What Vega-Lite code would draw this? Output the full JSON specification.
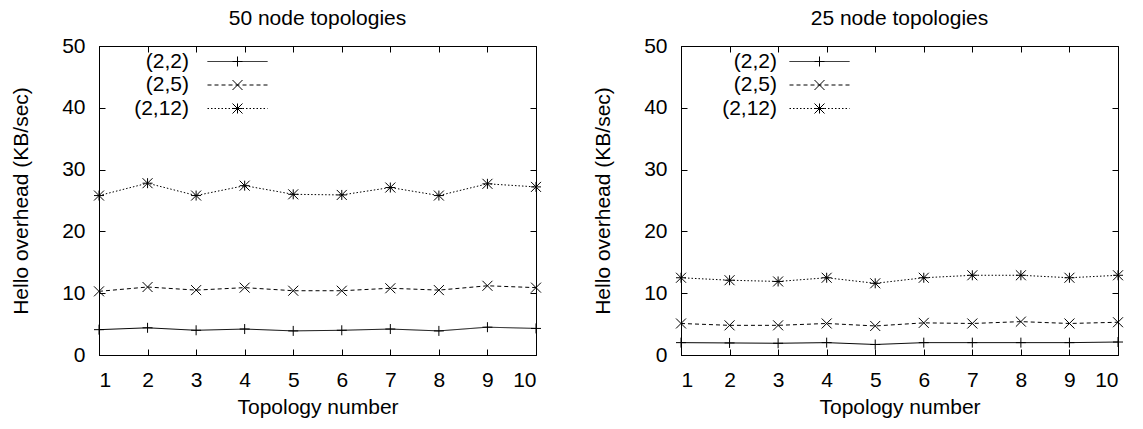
{
  "$schema": "https://vega.github.io/schema/vega-lite/v6.json",
  "padding": {"left": 10, "top": 7, "right": 5, "bottom": 5},
  "background": "white",
  "config": {
    "font": "Liberation Sans",
    "view": {"stroke": "black", "strokeWidth": 1},
    "axis": {
      "grid": false,
      "domainColor": "black",
      "tickColor": "black",
      "labelColor": "black",
      "titleColor": "black",
      "labelFontSize": 21,
      "titleFontSize": 21,
      "titleFontWeight": "normal",
      "tickSize": -6,
      "labelFont": "Liberation Sans",
      "titleFont": "Liberation Sans"
    },
    "title": {"fontSize": 21, "fontWeight": "normal", "color": "black", "font": "Liberation Sans"},
    "legend": {"padding": 0}
  },
  "data": {
    "values": [
      {"panel": "50", "topology": 1, "series": "(2,2)", "value": 4.1},
      {"panel": "50", "topology": 2, "series": "(2,2)", "value": 4.4},
      {"panel": "50", "topology": 3, "series": "(2,2)", "value": 4.0},
      {"panel": "50", "topology": 4, "series": "(2,2)", "value": 4.2},
      {"panel": "50", "topology": 5, "series": "(2,2)", "value": 3.9},
      {"panel": "50", "topology": 6, "series": "(2,2)", "value": 4.0},
      {"panel": "50", "topology": 7, "series": "(2,2)", "value": 4.2},
      {"panel": "50", "topology": 8, "series": "(2,2)", "value": 3.9},
      {"panel": "50", "topology": 9, "series": "(2,2)", "value": 4.5},
      {"panel": "50", "topology": 10, "series": "(2,2)", "value": 4.3},
      {"panel": "50", "topology": 1, "series": "(2,5)", "value": 10.3},
      {"panel": "50", "topology": 2, "series": "(2,5)", "value": 11.0},
      {"panel": "50", "topology": 3, "series": "(2,5)", "value": 10.5},
      {"panel": "50", "topology": 4, "series": "(2,5)", "value": 10.9},
      {"panel": "50", "topology": 5, "series": "(2,5)", "value": 10.4},
      {"panel": "50", "topology": 6, "series": "(2,5)", "value": 10.4},
      {"panel": "50", "topology": 7, "series": "(2,5)", "value": 10.8},
      {"panel": "50", "topology": 8, "series": "(2,5)", "value": 10.5},
      {"panel": "50", "topology": 9, "series": "(2,5)", "value": 11.2},
      {"panel": "50", "topology": 10, "series": "(2,5)", "value": 10.9},
      {"panel": "50", "topology": 1, "series": "(2,12)", "value": 25.8},
      {"panel": "50", "topology": 2, "series": "(2,12)", "value": 27.8},
      {"panel": "50", "topology": 3, "series": "(2,12)", "value": 25.8},
      {"panel": "50", "topology": 4, "series": "(2,12)", "value": 27.4},
      {"panel": "50", "topology": 5, "series": "(2,12)", "value": 26.0},
      {"panel": "50", "topology": 6, "series": "(2,12)", "value": 25.9},
      {"panel": "50", "topology": 7, "series": "(2,12)", "value": 27.1},
      {"panel": "50", "topology": 8, "series": "(2,12)", "value": 25.8},
      {"panel": "50", "topology": 9, "series": "(2,12)", "value": 27.7},
      {"panel": "50", "topology": 10, "series": "(2,12)", "value": 27.2},
      {"panel": "25", "topology": 1, "series": "(2,2)", "value": 2.0},
      {"panel": "25", "topology": 2, "series": "(2,2)", "value": 1.95},
      {"panel": "25", "topology": 3, "series": "(2,2)", "value": 1.9},
      {"panel": "25", "topology": 4, "series": "(2,2)", "value": 2.0},
      {"panel": "25", "topology": 5, "series": "(2,2)", "value": 1.7},
      {"panel": "25", "topology": 6, "series": "(2,2)", "value": 2.0},
      {"panel": "25", "topology": 7, "series": "(2,2)", "value": 2.0},
      {"panel": "25", "topology": 8, "series": "(2,2)", "value": 2.0},
      {"panel": "25", "topology": 9, "series": "(2,2)", "value": 2.0},
      {"panel": "25", "topology": 10, "series": "(2,2)", "value": 2.1},
      {"panel": "25", "topology": 1, "series": "(2,5)", "value": 5.1},
      {"panel": "25", "topology": 2, "series": "(2,5)", "value": 4.8},
      {"panel": "25", "topology": 3, "series": "(2,5)", "value": 4.8},
      {"panel": "25", "topology": 4, "series": "(2,5)", "value": 5.1},
      {"panel": "25", "topology": 5, "series": "(2,5)", "value": 4.7},
      {"panel": "25", "topology": 6, "series": "(2,5)", "value": 5.2},
      {"panel": "25", "topology": 7, "series": "(2,5)", "value": 5.1},
      {"panel": "25", "topology": 8, "series": "(2,5)", "value": 5.4},
      {"panel": "25", "topology": 9, "series": "(2,5)", "value": 5.1},
      {"panel": "25", "topology": 10, "series": "(2,5)", "value": 5.3},
      {"panel": "25", "topology": 1, "series": "(2,12)", "value": 12.5},
      {"panel": "25", "topology": 2, "series": "(2,12)", "value": 12.1},
      {"panel": "25", "topology": 3, "series": "(2,12)", "value": 11.9},
      {"panel": "25", "topology": 4, "series": "(2,12)", "value": 12.5},
      {"panel": "25", "topology": 5, "series": "(2,12)", "value": 11.6},
      {"panel": "25", "topology": 6, "series": "(2,12)", "value": 12.5},
      {"panel": "25", "topology": 7, "series": "(2,12)", "value": 12.9},
      {"panel": "25", "topology": 8, "series": "(2,12)", "value": 12.9},
      {"panel": "25", "topology": 9, "series": "(2,12)", "value": 12.5},
      {"panel": "25", "topology": 10, "series": "(2,12)", "value": 12.9}
    ]
  },
  "spacing": 48,
  "resolve": {
    "scale": {"shape": "independent", "strokeDash": "independent"},
    "legend": {"shape": "independent", "strokeDash": "independent"}
  },
  "hconcat": [
    {
      "title": {"text": "50 node topologies", "offset": 6},
      "width": 437,
      "height": 309,
      "transform": [{"filter": "datum.panel == '50'"}],
      "resolve": {"axis": {"x": "independent", "y": "independent"}},
      "layer": [
        {
          "mark": {"type": "line", "color": "black", "strokeWidth": 1},
          "encoding": {
            "x": {"field": "topology", "type": "quantitative", "scale": {"domain": [1, 10], "nice": false, "zero": false},
              "axis": {"orient": "bottom", "values": [1,2,3,4,5,6,7,8,9,10], "title": "Topology number", "labelPadding": 20, "titlePadding": 6}},
            "y": {"field": "value", "type": "quantitative", "scale": {"domain": [0, 50], "nice": false},
              "axis": {"orient": "left", "values": [0,10,20,30,40,50], "title": "Hello overhead (KB/sec)", "labelPadding": 20, "titlePadding": 30}},
            "strokeDash": {"field": "series", "type": "nominal", "sort": ["(2,2)", "(2,5)", "(2,12)"],
              "scale": {"range": [[1, 0], [4, 3], [1.5, 2]]},
              "legend": {"title": null, "orient": "none", "legendX": 128, "legendY": 5, "direction": "vertical",
                "symbolType": "M-6,0H6", "symbolSize": 100, "symbolStrokeColor": "black", "symbolStrokeWidth": 1, "symbolFillColor": "transparent",
                "rowPadding": 1.5, "labelAlign": "right", "labelOffset": -59,
                "labelFontSize": 21, "labelColor": "black", "labelFont": "Liberation Sans"}}
          }
        },
        {
          "mark": {"type": "point", "filled": false, "color": "black", "strokeWidth": 1, "size": 100, "opacity": 1},
          "encoding": {
            "x": {"field": "topology", "type": "quantitative",
              "axis": {"orient": "top", "values": [1,2,3,4,5,6,7,8,9,10], "labels": false, "title": null, "domain": false}},
            "y": {"field": "value", "type": "quantitative",
              "axis": {"orient": "right", "values": [0,10,20,30,40,50], "labels": false, "title": null, "domain": false}},
            "shape": {"field": "series", "type": "nominal",
              "scale": {"domain": ["(2,2)", "(2,5)", "(2,12)"], "range": ["M-1,0H1M0,-1V1", "M-1,-1L1,1M-1,1L1,-1", "M-1,0H1M0,-1V1M-1,-1L1,1M-1,1L1,-1"]},
              "legend": {"title": null, "orient": "none", "legendX": 128, "legendY": 5, "direction": "vertical",
                "symbolSize": 100, "symbolStrokeColor": "black", "symbolStrokeWidth": 1, "symbolFillColor": "transparent",
                "rowPadding": 1.5, "labelOpacity": 0, "labelFontSize": 21}}
          }
        }
      ]
    },
    {
      "title": {"text": "25 node topologies", "offset": 6},
      "width": 437,
      "height": 309,
      "transform": [{"filter": "datum.panel == '25'"}],
      "resolve": {"axis": {"x": "independent", "y": "independent"}},
      "layer": [
        {
          "mark": {"type": "line", "color": "black", "strokeWidth": 1},
          "encoding": {
            "x": {"field": "topology", "type": "quantitative", "scale": {"domain": [1, 10], "nice": false, "zero": false},
              "axis": {"orient": "bottom", "values": [1,2,3,4,5,6,7,8,9,10], "title": "Topology number", "labelPadding": 20, "titlePadding": 6}},
            "y": {"field": "value", "type": "quantitative", "scale": {"domain": [0, 50], "nice": false},
              "axis": {"orient": "left", "values": [0,10,20,30,40,50], "title": "Hello overhead (KB/sec)", "labelPadding": 20, "titlePadding": 30}},
            "strokeDash": {"field": "series", "type": "nominal", "sort": ["(2,2)", "(2,5)", "(2,12)"],
              "scale": {"range": [[1, 0], [4, 3], [1.5, 2]]},
              "legend": {"title": null, "orient": "none", "legendX": 128, "legendY": 5, "direction": "vertical",
                "symbolType": "M-6,0H6", "symbolSize": 100, "symbolStrokeColor": "black", "symbolStrokeWidth": 1, "symbolFillColor": "transparent",
                "rowPadding": 1.5, "labelAlign": "right", "labelOffset": -53,
                "labelFontSize": 21, "labelColor": "black", "labelFont": "Liberation Sans"}}
          }
        },
        {
          "mark": {"type": "point", "filled": false, "color": "black", "strokeWidth": 1, "size": 100, "opacity": 1},
          "encoding": {
            "x": {"field": "topology", "type": "quantitative",
              "axis": {"orient": "top", "values": [1,2,3,4,5,6,7,8,9,10], "labels": false, "title": null, "domain": false}},
            "y": {"field": "value", "type": "quantitative",
              "axis": {"orient": "right", "values": [0,10,20,30,40,50], "labels": false, "title": null, "domain": false}},
            "shape": {"field": "series", "type": "nominal",
              "scale": {"domain": ["(2,2)", "(2,5)", "(2,12)"], "range": ["M-1,0H1M0,-1V1", "M-1,-1L1,1M-1,1L1,-1", "M-1,0H1M0,-1V1M-1,-1L1,1M-1,1L1,-1"]},
              "legend": {"title": null, "orient": "none", "legendX": 128, "legendY": 5, "direction": "vertical",
                "symbolSize": 100, "symbolStrokeColor": "black", "symbolStrokeWidth": 1, "symbolFillColor": "transparent",
                "rowPadding": 1.5, "labelOpacity": 0, "labelFontSize": 21}}
          }
        }
      ]
    }
  ]
}
